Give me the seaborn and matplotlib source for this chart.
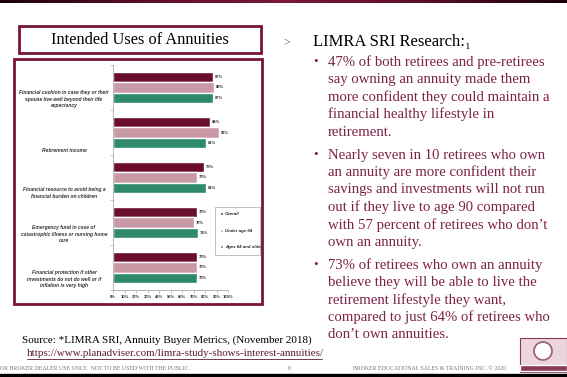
import numpy as np
import pandas as pd
import matplotlib
matplotlib.use("Agg")
import matplotlib.pyplot as plt
import seaborn as sns
from matplotlib.patches import Rectangle, Circle
import matplotlib.transforms as mtransforms

# ---------------- data ----------------
categories = [
    "Financial cushion in case they or their\nspouse live well beyond their life\nexpectancy",
    "Retirement income",
    "Financial resource to avoid being a\nfinancial burden on children",
    "Emergency fund in case of\ncatastrophic illness or nursing home\ncare",
    "Financial protection if other\ninvestments do not do well or if\ninflation is very high",
]
groups = ["Overall", "Under age 64", "Ages 64 and older"]
overall = [87, 84, 79, 73, 73]
under_64 = [88, 92, 73, 70, 73]
age_64_plus = [87, 81, 81, 74, 73]
x_ticks = list(range(0, 101, 10))
x_tick_labels = [f"{v}%" for v in x_ticks]

title = "Intended Uses of Annuities"
heading = "LIMRA SRI Research:"
bullets = [
    ["47% of both retirees and pre-retirees",
     "say owning an annuity made them",
     "more confident they could maintain a",
     "financial healthy lifestyle in",
     "retirement."],
    ["Nearly seven in 10 retirees who own",
     "an annuity are more confident their",
     "savings and investments will not run",
     "out if they live to age 90 compared",
     "with 57 percent of retirees who don\u2019t",
     "own an annuity."],
    ["73% of retirees who own an annuity",
     "believe they will be able to live the",
     "retirement lifestyle they want,",
     "compared to just 64% of retirees who",
     "don\u2019t own annuities."],
]
source_text = "Source: *LIMRA SRI, Annuity Buyer Metrics, (November 2018)"
url_text = "https://www.planadviser.com/limra-study-shows-interest-annuities/"
footer_left = "OR BROKER DEALER USE ONLY.  NOT TO BE USED WITH THE PUBLIC."
footer_page = "8"
footer_right = "BROKER EDUCATIONAL SALES & TRAINING INC. \u00a9 2020"

df = pd.DataFrame({
    "category": categories * 3,
    "group": [groups[0]] * 5 + [groups[1]] * 5 + [groups[2]] * 5,
    "value": overall + under_64 + age_64_plus,
})

# ---------------- style ----------------
sns.set_theme(style="white")
plt.rcParams["font.family"] = ["Liberation Sans", "DejaVu Sans"]

MAROON = "#7a1535"
TEXT_MAROON = "#7d2248"
palette = {"Overall": "#6b0e2e", "Under age 64": "#c99aa6", "Ages 64 and older": "#2f8a6b"}
SERIF = ["Liberation Serif", "DejaVu Serif"]

W, H = 567, 377
fig = plt.figure(figsize=(W / 100, H / 100), dpi=100)

# background / decoration axes in pixel coordinates
bg = fig.add_axes([0, 0, 1, 1], zorder=0)
bg.set_xlim(0, W)
bg.set_ylim(H, 0)
bg.axis("off")

# top gradient bar
grad = np.abs(np.linspace(-1, 1, 256))
cm = matplotlib.colors.LinearSegmentedColormap.from_list("g", ["#7a1a35", "#5a0f25", "#1a0308"])
bg.imshow(grad[None, :], extent=(0, W, 3.5, 0), aspect="auto", cmap=cm, zorder=1)

# title box
bg.add_patch(Rectangle((19, 26), 242, 27, fill=False, edgecolor=MAROON, lw=2.0, zorder=2))
bg.text(140, 39.5, title, ha="center", va="center", fontsize=11.8, family=SERIF, color="black")

# chart box
bg.add_patch(Rectangle((14, 59), 248, 245, fill=False, edgecolor=MAROON, lw=2.0, zorder=2))

# right-hand text
bg.text(283, 43, ">", ha="left", va="center", fontsize=8.5, family=SERIF, color="#8a4060")
bg.text(313, 42, heading + "\u2081", ha="left", va="center", fontsize=12,
        family=SERIF, color="black")
starts = [62, 155, 265]
step = 17.5
for start, lines in zip(starts, bullets):
    bg.text(316, start, "\u2022", ha="center", va="center", fontsize=9.5, family=SERIF, color=TEXT_MAROON)
    for i, line in enumerate(lines):
        bg.text(328, start + i * step, line, ha="left", va="center", fontsize=10.6,
                family=SERIF, color=TEXT_MAROON)

# source + url
bg.text(22, 340, source_text, ha="left", va="center", fontsize=8, family=SERIF, color="black")
bg.text(27, 354, url_text, ha="left", va="center", fontsize=7.9, family=SERIF, color="#5a1a2e")
bg.plot([27, 322], [359, 359], color="#5a1a2e", lw=0.6)

# footer
bg.text(0, 369, footer_left, ha="left", va="center", fontsize=4.2, family=SERIF, color="#777777")
bg.text(289, 369, footer_page, ha="center", va="center", fontsize=4.2, family=SERIF, color="#777777")
bg.text(353, 369, footer_right, ha="left", va="center", fontsize=4.2, family=SERIF, color="#777777")
bg.add_patch(Rectangle((0, 374), W, 3, color="black", zorder=2))

# logo
bg.add_patch(Rectangle((520, 338), 47, 34, facecolor="#ead6dc", edgecolor="#8a3a55", lw=0.8, zorder=2))
bg.add_patch(Circle((543, 351), 9, facecolor="white", edgecolor="#9a5a70", lw=1.2, zorder=3))
bg.add_patch(Rectangle((520, 365), 47, 6, facecolor="#8a3a55", zorder=3))

# ---------------- chart ----------------
ax = fig.add_axes([113 / W, 1 - 290 / H, 115 / W, 225 / H], zorder=1)
ax.set_facecolor("none")
sns.barplot(data=df, y="category", x="value", hue="group", hue_order=groups,
            palette=palette, orient="h", width=0.667, saturation=1,
            errorbar=None, ax=ax)
ax.set_xlim(0, 100)
ax.set_ylim(4.5, -0.5)
ax.set_xlabel("")
ax.set_ylabel("")

for cont in ax.containers:
    ax.bar_label(cont, fmt="%d%%", padding=1.5, fontsize=3, color="#333333", fontweight="bold")

ax.set_xticks(x_ticks, x_tick_labels)
ax.tick_params(axis="x", bottom=True, length=2, width=0.4, color="#999999", pad=1.5,
               labelsize=3, labelcolor="#333333")
for lab in ax.get_xticklabels():
    lab.set_fontweight("bold")
ax.set_yticks(np.arange(-0.5, 5, 1), minor=True)
ax.tick_params(axis="y", which="minor", left=True, length=2, width=0.4, color="#999999")
ax.tick_params(axis="y", which="major", left=False, length=0, pad=0,
               labelsize=3.6, labelcolor="#333333")

offset = mtransforms.ScaledTranslation(-49 / 100, -21 / 100, fig.dpi_scale_trans)
for lab in ax.get_yticklabels():
    lab.set_transform(lab.get_transform() + offset)
    lab.set_ha("center")
    lab.set_va("bottom")
    lab.set_multialignment("center")
    lab.set_style("italic")
    lab.set_fontweight("bold")
    lab.set_linespacing(1.45)

for s in ["top", "right"]:
    ax.spines[s].set_visible(False)
for s in ["left", "bottom"]:
    ax.spines[s].set_color("#999999")
    ax.spines[s].set_linewidth(0.5)

handles, labels = ax.get_legend_handles_labels()
ax.legend(handles, labels, loc="upper left",
          bbox_to_anchor=(215 / W, 1 - 253 / H, 45 / W, 46 / H), mode="expand",
          bbox_transform=fig.transFigure, frameon=True, fancybox=False,
          edgecolor="#aaaaaa", framealpha=1, fontsize=3.2,
          prop={"style": "italic", "size": 3.2, "weight": "bold"},
          handlelength=0.6, handleheight=0.6, handletextpad=0.5,
          labelspacing=2.8, borderpad=1.2, borderaxespad=0)
ax.get_legend().get_frame().set_linewidth(0.5)

fig.savefig("out.png", dpi=100)
